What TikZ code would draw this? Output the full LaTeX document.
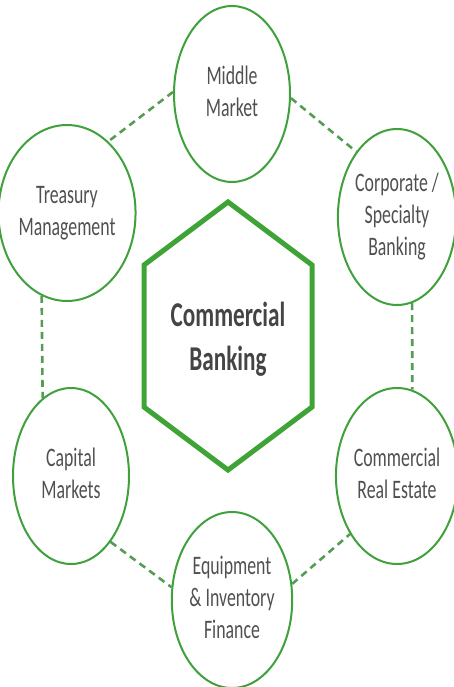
\documentclass[tikz,border=0pt]{standalone}
\usepackage{graphicx}
\usepackage{fontspec}
\setmainfont{Carlito}
\definecolor{ringgreen}{HTML}{3FA03C}
\definecolor{dashgreen}{HTML}{559C55}
\definecolor{hexgreen}{HTML}{3DA435}
\definecolor{txtgrey}{HTML}{505050}
\newcommand{\vstretch}[1]{\scalebox{1}[1.5]{\begin{tabular}{@{}c@{}}#1\end{tabular}}}
\tikzset{
  ring/.style={ellipse, draw=ringgreen, line width=2pt, minimum width=116pt, minimum height=176pt, inner sep=0pt,
    text=txtgrey, font=\fontsize{17.8}{21.5}\selectfont},
  link/.style={draw=dashgreen, line width=2.6pt, dash pattern=on 7pt off 5pt},
  hexline/.style={draw=hexgreen, line width=5pt, line join=miter},
  hubtext/.style={text=txtgrey!85!black, font=\fontsize{23.2}{29}\selectfont\bfseries}
}
\usetikzlibrary{shapes.geometric}
\begin{document}
\begin{tikzpicture}[x=1pt, y=-1pt]
\useasboundingbox (0,0) rectangle (453,687);
% hexagon
\coordinate (h1) at (228,202);
\coordinate (h2) at (312,265);
\coordinate (h3) at (312,407);
\coordinate (h4) at (228,470);
\coordinate (h5) at (144,407);
\coordinate (h6) at (144,265);
\draw[hexline] (h1) -- (h2) -- (h3) -- (h4) -- (h5) -- (h6) -- cycle;
\node[hubtext] (hub) at (228,340) {\vstretch{Commercial\\Banking}};
% rings
\node[ring] (mm) at (232,94) {\vstretch{Middle\\Market}};
\node[ring] (tm) at (67,213) {\vstretch{Treasury\\Management}};
\node[ring] (cs) at (397,217) {\vstretch{Corporate /\\Specialty\\Banking}};
\node[ring] (cm) at (71,476) {\vstretch{Capital\\Markets}};
\node[ring] (cre) at (397,476) {\vstretch{Commercial\\Real Estate}};
\node[ring] (eif) at (232,600) {\vstretch{Equipment\\\& Inventory\\Finance}};
% dashed links
\draw[link] (mm.178) -- (tm.60);
\draw[link] (mm.-4) -- (cs.122);
\draw[link] (tm.253) -- (cm.110);
\draw[link] (cs.-80) -- (cre.80);
\draw[link] (cm.-59) -- (eif.168);
\draw[link] (eif.15) -- (cre.231);
\end{tikzpicture}
\end{document}
